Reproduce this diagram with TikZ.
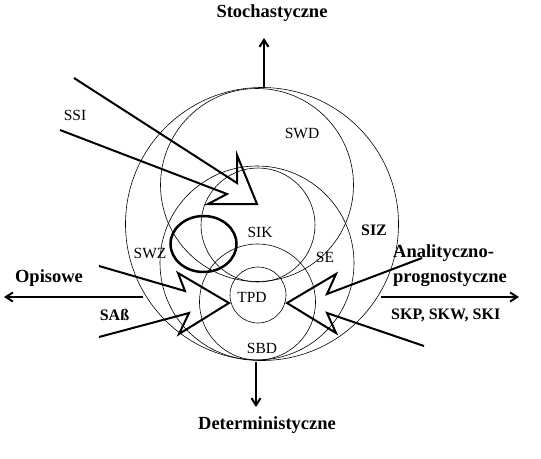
\documentclass[tikz,border=0pt]{standalone}
\usepackage{fontspec}
\setmainfont{Liberation Serif}
\usetikzlibrary{arrows.meta,shapes.geometric}

\begin{document}
\begin{tikzpicture}[x=1pt,y=-1pt,
  >={Straight Barb[length=7pt,width=9pt]},
  ring/.style={draw,circle,line width=0.6pt,inner sep=0pt,outer sep=0pt,minimum size=#1},
  lab/.style={font=\fontsize{15.5}{17}\selectfont,inner sep=0pt},
  blab/.style={font=\fontsize{16}{18}\selectfont\bfseries,inner sep=0pt},
  axlab/.style={font=\fontsize{18.5}{25}\selectfont\bfseries,inner sep=0pt,align=left},
  axis/.style={->,line width=2pt},
  bolt/.style={line width=2pt,line join=miter}
]
\useasboundingbox (0,0) rectangle (541,458);

% circles
\node[ring=273pt] (siz) at (262,224) {};
\node[ring=193pt] (swd) at (257,185) {};
\node[ring=194pt] (se) at (257,263) {};
\node[ring=114pt] (sik) at (258,225) {};
\node[ring=116pt] (sbd) at (257.5,302) {};
\node[ring=56pt] (tpd) at (258,295) {};
\node[draw,ellipse,line width=2.5pt,inner sep=0pt,minimum width=66pt,minimum height=56pt] (swz) at (203.5,244) {};

% axes
\coordinate (upA) at (264,88);
\coordinate (upB) at (264,38);
\coordinate (dnA) at (256,362);
\coordinate (dnB) at (256,407);
\coordinate (lfA) at (143,297);
\coordinate (lfB) at (4,297);
\coordinate (rtA) at (381,297);
\coordinate (rtB) at (519,297);
\draw[axis] (upA) -- (upB);
\draw[axis] (dnA) -- (dnB);
\draw[axis] (lfA) -- (lfB);
\draw[axis] (rtA) -- (rtB);

% bolts
\coordinate (ssi1) at (74,78);
\coordinate (ssi2) at (60,130);
\coordinate (sab1) at (99,266);
\coordinate (sab2) at (99,337);
\coordinate (skp1) at (422,258);
\coordinate (skp2) at (424,346);
\draw[bolt] (ssi1) -- (237,183) -- (237,155) -- (257,204) -- (208,204) -- (227,194) -- (ssi2);
\draw[bolt] (sab1) -- (185,291) -- (178,273) -- (229,303) -- (179,334) -- (189,313) -- (sab2);
\draw[bolt] (skp1) -- (327,294) -- (336,274) -- (287,303) -- (336,333) -- (327,313) -- (skp2);

% labels
\node[lab] (lssi) at (75,115) {SSI};
\node[lab] (lswd) at (302,133) {SWD};
\node[lab] (lsik) at (260,232) {SIK};
\node[lab] (lswz) at (150,253) {SWZ};
\node[lab] (lse) at (325,257) {SE};
\node[lab] (ltpd) at (252,297) {TPD};
\node[lab] (lsbd) at (262,348) {SBD};
\node[blab] (lsiz) at (374,230) {SIZ};
\node[blab] (lsab) at (114.5,315) {SAß};
\node[blab,anchor=west] (lskp) at (391,315) {SKP, SKW, SKI};
\node[axlab] (stoch) at (272,13) {Stochastyczne};
\node[axlab] (determ) at (267,425) {Deterministyczne};
\node[axlab] (opis) at (49,278) {Opisowe};
\node[axlab,anchor=west] (anal) at (393,265.5) {Analityczno-\\prognostyczne};
\end{tikzpicture}
\end{document}
